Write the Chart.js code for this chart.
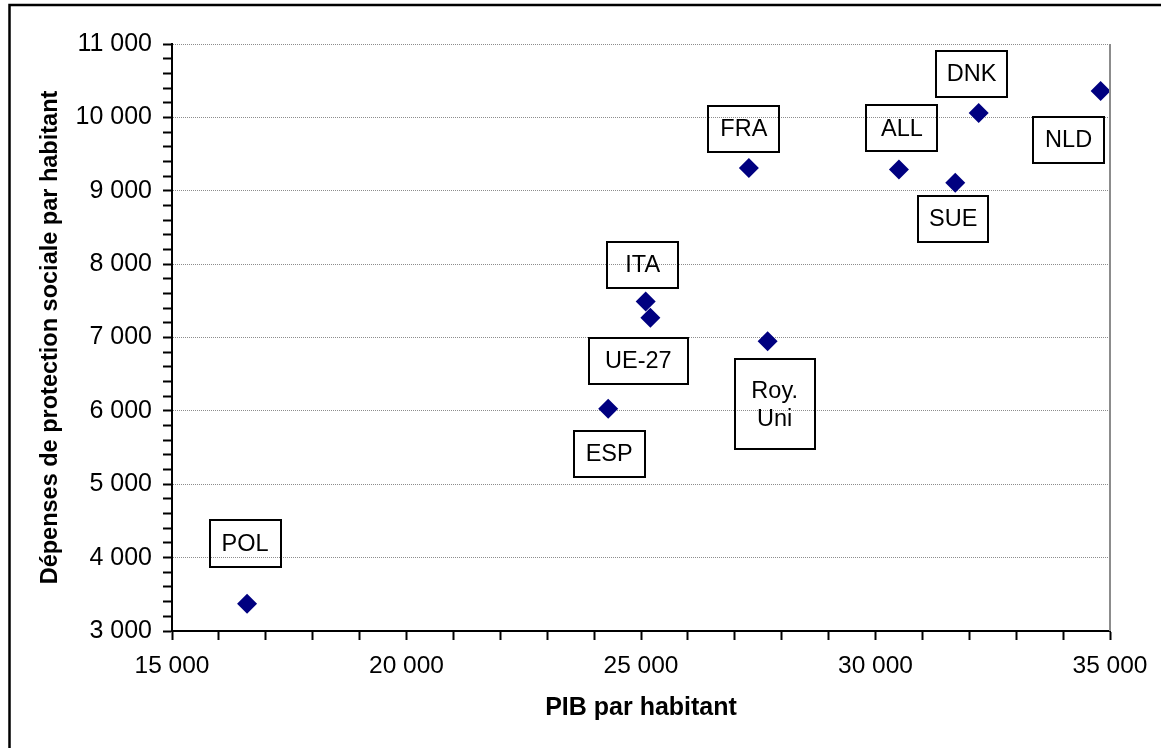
<!DOCTYPE html>
<html>
<head>
<meta charset="utf-8">
<script src="https://cdn.jsdelivr.net/npm/chart.js@4/dist/chart.umd.min.js"></script>
<style>
  html, body { margin: 0; padding: 0; background: #fff; }
  #wrap { width: 1161px; height: 748px; position: relative; }
</style>
</head>
<body>
<div id="wrap"><canvas id="c"></canvas></div>
<script>
// ---- Data ----
const countries = [['POL'], ['ESP'], ['ITA'], ['UE-27'], ['Roy.', 'Uni'], ['FRA'], ['ALL'], ['SUE'], ['DNK'], ['NLD']];
const pibParHabitant = [16600, 24300, 25100, 25200, 27700, 27300, 30500, 31700, 32200, 34800];
const depensesParHabitant = [3370, 6030, 7490, 7270, 6950, 9310, 9290, 9110, 10060, 10360];
const xTickLabels = [15000, 20000, 25000, 30000, 35000];
const yTickLabels = [3000, 4000, 5000, 6000, 7000, 8000, 9000, 10000, 11000];
const xTitle = 'PIB par habitant';
const yTitle = 'Dépenses de protection sociale par habitant';

// ---- Label box styling (pixel offsets from point, box size) ----
const labelBoxes = [
  { dx: -2, dy: -60, w: 71, h: 47 },
  { dx: 1, dy: 45, w: 71, h: 46 },
  { dx: -3, dy: -37, w: 71, h: 46 },
  { dx: -12, dy: 43, w: 99, h: 46 },
  { dx: 7, dy: 63, w: 80, h: 90 },
  { dx: -5, dy: -39, w: 71, h: 46 },
  { dx: 3, dy: -41, w: 71, h: 46 },
  { dx: -2, dy: 36, w: 70, h: 46 },
  { dx: -7, dy: -39, w: 71, h: 46 },
  { dx: -32, dy: 49, w: 71, h: 46 }
];

const FONT = '"Liberation Sans", Arial, sans-serif';
const fmt = v => String(v).replace(/\B(?=(\d{3})+(?!\d))/g, ' ');

const points = pibParHabitant.map((x, i) => ({ x: x, y: depensesParHabitant[i] }));

const framePlugin = {
  id: 'frame',
  beforeDraw(chart) {
    const ctx = chart.ctx;
    ctx.save();
    ctx.fillStyle = '#fff';
    ctx.fillRect(0, 0, chart.width, chart.height);
    ctx.restore();
  },
  afterDraw(chart) {
    const ctx = chart.ctx;
    const a = chart.chartArea;
    ctx.save();
    ctx.strokeStyle = '#8c8c8c';
    ctx.lineWidth = 2;
    ctx.beginPath();
    ctx.moveTo(a.right, a.top);
    ctx.lineTo(a.right, a.bottom);
    ctx.stroke();
    ctx.strokeStyle = '#000';
    ctx.lineWidth = 2.5;
    ctx.beginPath();
    ctx.moveTo(9.5, chart.height + 5);
    ctx.lineTo(9.5, 5);
    ctx.lineTo(chart.width + 5, 5);
    ctx.stroke();
    ctx.restore();
  }
};

const labelPlugin = {
  id: 'boxLabels',
  afterDatasetsDraw(chart) {
    const ctx = chart.ctx;
    const meta = chart.getDatasetMeta(0);
    ctx.save();
    ctx.font = '23.5px ' + FONT;
    ctx.textAlign = 'center';
    ctx.textBaseline = 'middle';
    ctx.fillStyle = '#000';
    ctx.strokeStyle = '#000';
    ctx.lineWidth = 2;
    meta.data.forEach((pt, i) => {
      const b = labelBoxes[i];
      const cx = pt.x + b.dx, cy = pt.y + b.dy;
      ctx.strokeRect(Math.round(cx - b.w / 2), Math.round(cy - b.h / 2), b.w, b.h);
      const lines = countries[i];
      const lh = 28;
      lines.forEach((t, k) => {
        ctx.fillText(t, cx, cy + (k - (lines.length - 1) / 2) * lh + 1);
      });
    });
    ctx.restore();
  }
};

new Chart(document.getElementById('c'), {
  type: 'scatter',
  data: {
    datasets: [{
      data: points,
      pointStyle: 'rectRot',
      pointRadius: 10,
      pointHoverRadius: 10,
      backgroundColor: '#000080',
      borderColor: '#000080',
      borderWidth: 0,
      clip: false
    }]
  },
  options: {
    responsive: true,
    maintainAspectRatio: false,
    animation: false,
    events: [],
    layout: { padding: { top: 44, right: 51, left: 0, bottom: 0 } },
    plugins: { legend: { display: false }, tooltip: { enabled: false } },
    scales: {
      x: {
        type: 'linear',
        min: xTickLabels[0],
        max: xTickLabels[xTickLabels.length - 1],
        afterFit(s) { s.height = 117; },
        ticks: {
          stepSize: 1000,
          autoSkip: false,
          maxTicksLimit: 100,
          maxRotation: 0,
          padding: 12,
          color: '#000',
          font: { family: FONT, size: 24.5 },
          callback: v => xTickLabels.includes(v) ? fmt(v) : ''
        },
        grid: {
          drawOnChartArea: false,
          drawTicks: true,
          tickLength: 9,
          tickColor: '#000',
          tickWidth: 2
        },
        border: { display: true, color: '#000', width: 2 },
        title: {
          display: true,
          text: xTitle,
          color: '#000',
          font: { family: FONT, size: 25, weight: 'bold' },
          padding: { top: 0, bottom: 25 }
        }
      },
      y: {
        type: 'linear',
        min: yTickLabels[0],
        max: yTickLabels[yTickLabels.length - 1],
        afterFit(s) { s.width = 172; },
        ticks: {
          stepSize: 200,
          autoSkip: false,
          maxTicksLimit: 100,
          padding: 11,
          color: '#000',
          font: { family: FONT, size: 25 },
          callback: v => yTickLabels.includes(v) ? fmt(v) : ''
        },
        grid: {
          drawOnChartArea: true,
          drawTicks: true,
          tickLength: 9,
          tickColor: '#000',
          tickWidth: 2,
          lineWidth: 1,
          color: c => (c.tick && yTickLabels.includes(c.tick.value) && c.tick.value !== yTickLabels[0]) ? '#8c8c8c' : 'rgba(0,0,0,0)'
        },
        border: { display: true, color: '#000', width: 2, dash: [1, 1] },
        title: {
          display: true,
          text: yTitle,
          color: '#000',
          font: { family: FONT, size: 23.5, weight: 'bold' },
          padding: { top: 36, bottom: 0 }
        }
      }
    }
  },
  plugins: [framePlugin, labelPlugin]
});
</script>
</body>
</html>
